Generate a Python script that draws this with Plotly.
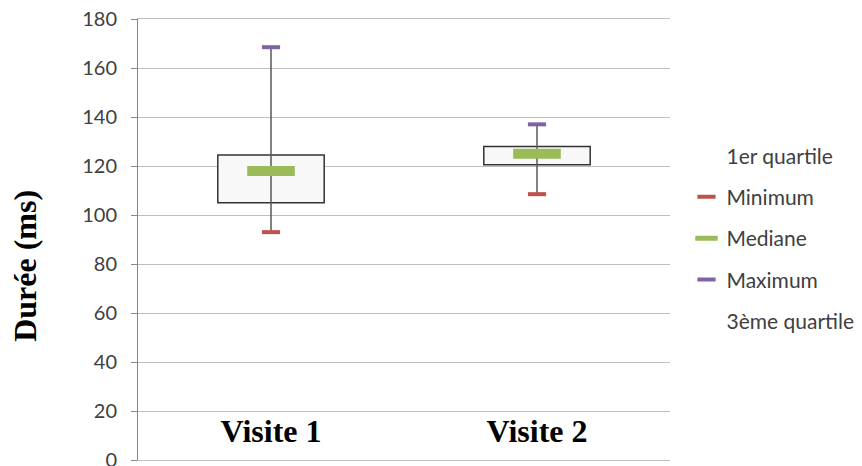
import plotly.graph_objects as go

# box plot statistics
visits = ['Visite 1', 'Visite 2']
minimum = [93, 108.5]
q1 = [105, 120.5]
median = [118, 125]
q3 = [124.5, 128]
maximum = [168.5, 137]

box_height = [hi - lo for lo, hi in zip(q1, q3)]

# whiskers from min to max, one segment per visit
wx, wy = [], []
for v, lo, hi in zip(visits, minimum, maximum):
    wx += [v, v, None]
    wy += [lo, hi, None]

fig = go.Figure()

fig.add_trace(go.Scatter(x=wx, y=wy, mode='lines', showlegend=False,
                         line=dict(color='#595959', width=1.5), hoverinfo='skip'))

fig.add_trace(go.Bar(x=visits, y=box_height, base=q1, width=0.4, showlegend=False,
                     marker=dict(color='#F8F8F8', line=dict(color='#333333', width=1.5))))

fig.add_trace(go.Scatter(x=visits, y=q1, mode='markers', name='1er quartile',
                         legendgroup='a', legendrank=1,
                         marker=dict(color='rgba(0,0,0,0)', size=1)))
fig.add_trace(go.Scatter(x=visits, y=minimum, mode='markers', name='Minimum',
                         legendgroup='b', legendrank=2,
                         marker=dict(symbol='line-ew', size=13,
                                     line=dict(color='#C0504D', width=4))))
fig.add_trace(go.Scatter(x=visits, y=median, mode='markers', name='Mediane',
                         legendgroup='c', legendrank=3,
                         marker=dict(symbol='line-ew', size=34,
                                     line=dict(color='#9BBB59', width=10))))
fig.add_trace(go.Scatter(x=visits, y=maximum, mode='markers', name='Maximum',
                         legendgroup='d', legendrank=4,
                         marker=dict(symbol='line-ew', size=13,
                                     line=dict(color='#8064A2', width=4))))
fig.add_trace(go.Scatter(x=visits, y=q3, mode='markers', name='3ème quartile',
                         legendgroup='e', legendrank=5,
                         marker=dict(color='rgba(0,0,0,0)', size=1)))

fig.add_annotation(text='<b>Durée (ms)</b>', textangle=-90, showarrow=False,
                   xref='paper', yref='paper', x=-0.2126, y=0.44,
                   xanchor='center', yanchor='middle',
                   font=dict(family='Liberation Serif', size=32, color='black'))

# page body has an 8px margin, so the margins are shifted to compensate
fig.update_layout(
    width=862, height=466,
    margin=dict(l=130, r=196, t=11, b=14),
    plot_bgcolor='white', paper_bgcolor='white',
    font=dict(family='Lato', size=20, color='#404040'),
    legend=dict(x=1.031, xanchor='left', y=0.736, yanchor='top',
                tracegroupgap=11, font=dict(size=21, color='#404040')),
    xaxis=dict(showgrid=False, showline=True, mirror=True, linecolor='#BFBFBF',
               linewidth=1, ticks='', ticklabelstandoff=-57,
               ticklabeloverflow='allow', automargin=False,
               tickfont=dict(family='Liberation Serif', size=32, color='black',
                             weight='bold')),
    yaxis=dict(range=[0, 180], dtick=20, showgrid=True, gridcolor='#BFBFBF',
               gridwidth=1, showline=True, linecolor='#868686', linewidth=1,
               ticks='outside', ticklen=6, tickcolor='#868686', automargin=False,
               ticklabeloverflow='allow', ticklabelstandoff=10,
               zeroline=False, tickfont=dict(size=20, color='#404040')),
)

fig.write_html("out.html")
